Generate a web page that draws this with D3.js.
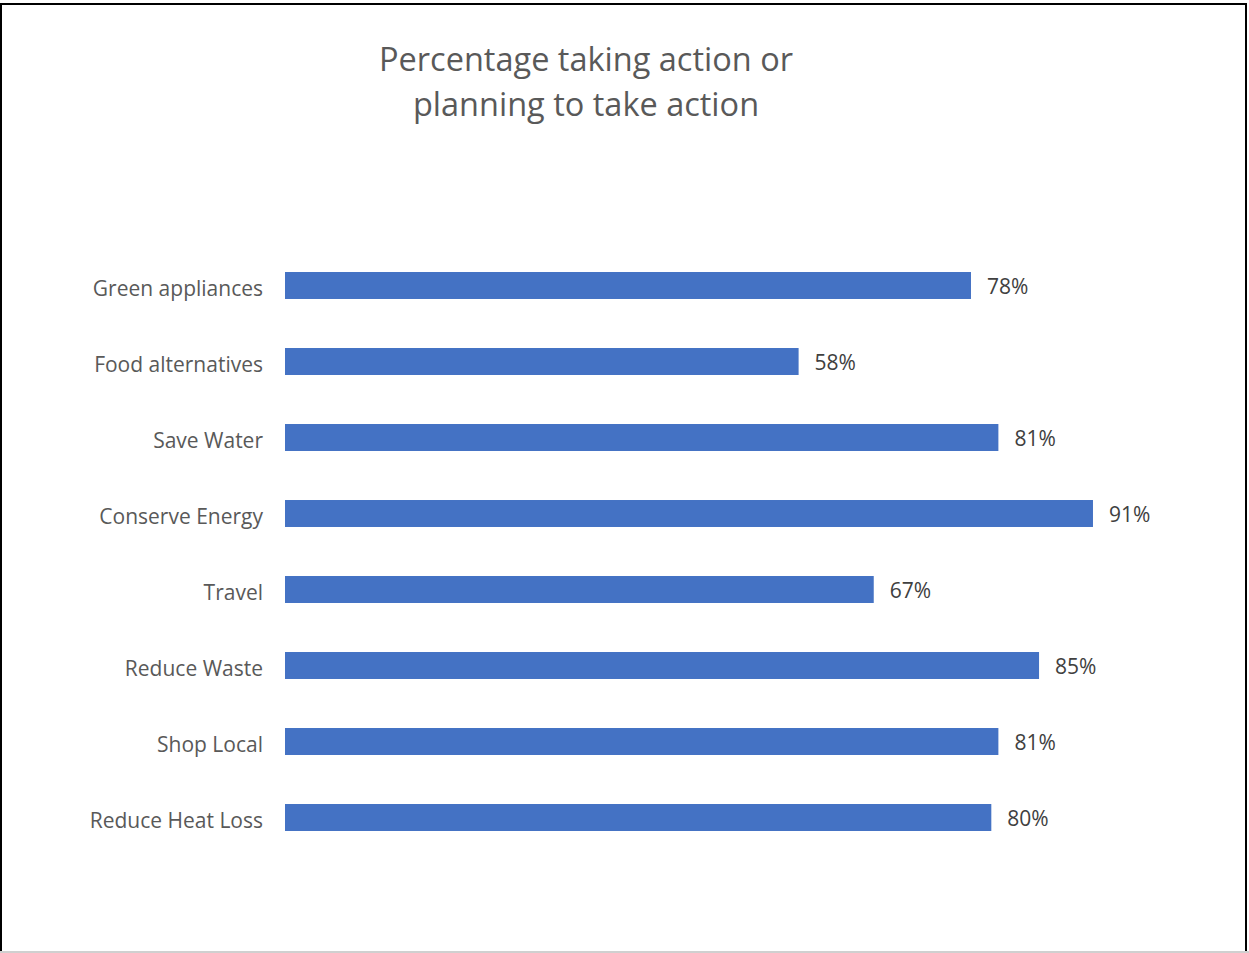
<!DOCTYPE html>
<html>
<head>
<meta charset="utf-8">
<script src="https://cdn.jsdelivr.net/npm/d3@7"></script>
<style>
  html, body { margin: 0; padding: 0; background: #fff; }
  svg { display: block; }
  text { font-family: "Open Sans", "Noto Sans", sans-serif; }
</style>
</head>
<body>
<svg id="chart" width="1249" height="953"></svg>
<script>
// Data
const titleLines = ["Percentage taking action or", "planning to take action"];
const categories = ["Green appliances", "Food alternatives", "Save Water", "Conserve Energy",
                    "Travel", "Reduce Waste", "Shop Local", "Reduce Heat Loss"];
const values = [77.6, 58.1, 80.7, 91.4, 66.6, 85.3, 80.7, 79.9];

const W = 1249, H = 953;
const svg = d3.select("#chart");

// Border
svg.append("rect").attr("x", 1).attr("y", 4).attr("width", 1245).attr("height", 948)
  .attr("fill", "#fff").attr("stroke", "#000").attr("stroke-width", 2);
svg.append("line").attr("x1", 0).attr("x2", W).attr("y1", 952).attr("y2", 952)
  .attr("stroke", "#d0d0d0").attr("stroke-width", 2);

// Title
const title = svg.append("text").attr("text-anchor", "middle").attr("fill", "#595959")
  .style("font-size", "32.5px");
titleLines.forEach((t, i) => {
  title.append("tspan").attr("x", 586).attr("y", 71 + i * 45).text(t);
});

// Scales
const x = d3.scaleLinear().domain([0, 100]).range([285, 1169]);
const y = d3.scaleBand().domain(categories).range([247.5, 855.5]).paddingInner(0.645).paddingOuter(0.3225);

const data = categories.map((c, i) => ({ c, v: values[i] }));

// Bars
svg.append("g").selectAll("rect").data(data).join("rect")
  .attr("x", x(0)).attr("y", d => y(d.c))
  .attr("width", d => x(d.v) - x(0)).attr("height", y.bandwidth())
  .attr("fill", "#4472C4");

// Category axis
const yAxis = svg.append("g").attr("transform", `translate(${x(0)},0)`)
  .call(d3.axisLeft(y).tickSize(0).tickPadding(22));
yAxis.select(".domain").remove();
yAxis.selectAll("text").attr("fill", "#595959").style("font-size", "21px")
  .attr("dy", null).attr("y", y.bandwidth() / 2 - 3).attr("dominant-baseline", "auto");

// Value labels
svg.append("g").selectAll("text").data(data).join("text")
  .attr("x", d => x(d.v) + 16).attr("y", d => y(d.c) + y.bandwidth() / 2 + 8)
  .attr("fill", "#404040").style("font-size", "21px")
  .text(d => d3.format(".0f")(d.v) + "%");
</script>
</body>
</html>
